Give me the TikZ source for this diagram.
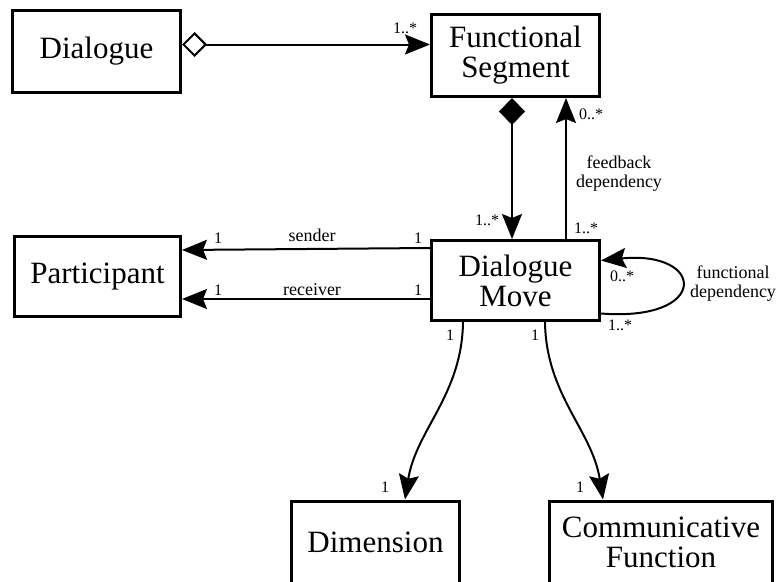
\documentclass[tikz,border=0pt]{standalone}
\usepackage{fontspec}
\setmainfont{Liberation Serif}
\usetikzlibrary{arrows.meta,calc}
\begin{document}
\begin{tikzpicture}[x=1pt,y=-1pt,
  cls/.style={draw,line width=3pt,minimum width=168pt,minimum height=82pt,
    align=center,font=\fontsize{31}{30}\selectfont,inner sep=0pt},
  conn/.style={line width=2pt},
  tip/.style={-{Stealth[length=25pt,width=20pt,inset=4pt]}},
  role/.style={font=\fontsize{18}{19}\selectfont,inner sep=0pt,align=center},
  mult/.style={font=\fontsize{16}{16}\selectfont,inner sep=0pt}]
\useasboundingbox (0,0) rectangle (779,581);
\clip (0,0) rectangle (779,581);

% classes
\node[cls] (dlg)  at (96.5,51.5)  {Dialogue};
\node[cls] (fs)   at (515.5,55.5) {Functional\\Segment};
\node[cls,minimum width=166pt,minimum height=80pt] (part) at (97.5,276.5) {Participant};
\node[cls,minimum height=80pt] (dm) at (515.5,280.5) {Dialogue\\Move};
\node[cls] (dim)  at (375.5,542)  {Dimension};
\node[cls,minimum width=223pt] (cf) at (661,542) {Communicative\\Function};

% aggregation: dialogue consists of functional segments
\draw[conn,{Diamond[open,length=25pt,width=25pt,line width=2pt]}-{Stealth[length=25pt,width=20pt,inset=4pt]}]
  ($(dlg.east)+(0,-7)$) -- ($(fs.west)+(0,-11)$);
\node[mult] (m1) at (405,28) {1..*};

% composition: segment contains dialogue moves
\draw[conn,{Diamond[length=27pt,width=26pt]}-{Stealth[length=25pt,width=20pt,inset=4pt]}]
  ($(fs.south)+(-3.5,0)$) -- ($(dm.north)+(-3.5,0)$);
\node[mult] (m2) at (487,220) {1..*};

% feedback dependency
\draw[conn,tip] ($(dm.north)+(50.5,0)$) -- ($(fs.south)+(50.5,0)$);
\node[mult] (m3) at (591,114) {0..*};
\node[mult] (m4) at (586,228) {1..*};
\node[role] (fb) at (619,174) {feedback\\dependency};

% sender / receiver
\draw[conn,tip] ($(dm.west)+(0,-32.5)$) -- ($(part.east)+(0,-26.5)$);
\node[role] (snd) at (312,235) {sender};
\node[mult] (m5) at (218,238) {1};
\node[mult] (m6) at (418,238) {1};
\draw[conn,tip] ($(dm.west)+(0,18.5)$) -- ($(part.east)+(0,22.5)$);
\node[role] (rcv) at (312,290) {receiver};
\node[mult] (m7) at (218,290) {1};
\node[mult] (m8) at (418,290) {1};

% functional dependency (self loop)
\coordinate (lpA) at ($(dm.east)+(0,33)$);
\coordinate (lpB) at ($(dm.east)+(0,-20)$);
\draw[conn,tip] (lpA) .. controls (710,322) and (706,250) .. (lpB);
\node[mult] (m9)  at (622,276) {0..*};
\node[mult] (m10) at (620,325) {1..*};
\node[role] (fd) at (733,284) {functional\\dependency};

% dimension and communicative function
\coordinate (dA) at ($(dm.south)+(-52.5,0)$);
\coordinate (dB) at ($(dim.north)+(29.5,0)$);
\draw[conn,tip] (dA) .. controls (462,395) and (416,430) .. (dB);
\node[mult] (m11) at (450,335) {1};
\node[mult] (m12) at (385,487) {1};
\coordinate (cA) at ($(dm.south)+(29.5,0)$);
\coordinate (cB) at ($(cf.north)+(-58,0)$);
\draw[conn,tip] (cA) .. controls (546,395) and (592,430) .. (cB);
\node[mult] (m13) at (535,335) {1};
\node[mult] (m14) at (580,487) {1};
\end{tikzpicture}
\end{document}
